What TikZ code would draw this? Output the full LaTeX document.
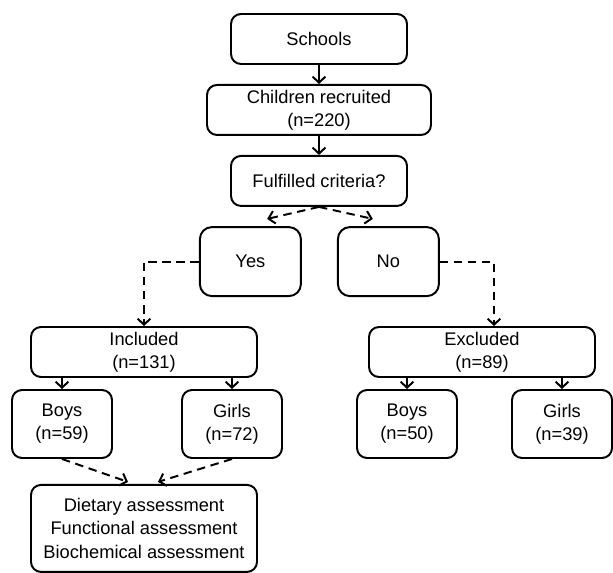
\documentclass[tikz,border=0pt]{standalone}
\usepackage{fontspec}
\setmainfont{Liberation Sans}
\usetikzlibrary{positioning,arrows.meta}

\begin{document}
\begin{tikzpicture}[
    node distance=0.475cm,
    every node/.style={font=\fontsize{13}{16.5}\selectfont},
    box/.style={rectangle, draw, line width=1.4pt, rounded corners=0.25cm, align=center, inner sep=0pt},
    widebox/.style={box, minimum width=5.65cm, minimum height=1.25cm},
    smallbox/.style={box, minimum width=2.5cm, minimum height=1.7cm},
    choice/.style={box, rounded corners=0.3cm, minimum width=2.525cm, minimum height=1.725cm},
    arrow/.style={-{Straight Barb[length=1.5mm,width=3.2mm]}, line width=1.4pt},
    dasharrow/.style={arrow, dash pattern=on 6pt off 4pt},
    dashline/.style={line width=1.4pt, dash pattern=on 6pt off 4pt}
]
    \useasboundingbox (0,0) rectangle (15.325,-14.325);

    % Top chain
    \node[box, minimum width=4.4cm, minimum height=1.25cm] (schools) at (7.975,-0.975) {Schools};
    \node[box, minimum width=5.6cm, minimum height=1.25cm] (children) [below=of schools] {Children recruited\\(n=220)};
    \node[box, minimum width=4.4cm, minimum height=1.25cm] (criteria) [below=of children] {Fulfilled criteria?};

    % Decision
    \node[choice] (yes) at (6.26,-6.54) {Yes};
    \node[choice] (no) at (9.71,-6.54) {No};

    % Groups
    \node[widebox] (incl) at (3.6,-8.8) {Included\\(n=131)};
    \node[widebox] (excl) at (12.05,-8.8) {Excluded\\(n=89)};

    \node[smallbox] (boysin) at (1.55,-10.6) {Boys\\(n=59)};
    \node[smallbox] (girlsin) at (5.8,-10.6) {Girls\\(n=72)};
    \node[smallbox] (boysex) at (10.175,-10.6) {Boys\\(n=50)};
    \node[smallbox] (girlsex) at (14.05,-10.6) {Girls\\(n=39)};

    % Assessments
    \node[box, minimum width=5.65cm, minimum height=2.175cm] (assess) at (3.6,-13.21) {Dietary assessment\\Functional assessment\\Biochemical assessment};

    % Solid arrows
    \draw[arrow] (schools) -- (children);
    \draw[arrow] (children) -- (criteria);
    \foreach \g/\s in {boysin/incl, girlsin/incl, boysex/excl, girlsex/excl} {
        \draw[arrow] (\g.north |- \s.south) -- (\g.north);
    }

    % Dashed arrows
    \draw[dasharrow] (criteria.south) -- ([xshift=0.42cm,yshift=0.18cm]yes.north);
    \draw[dasharrow] (criteria.south) -- ([xshift=-0.39cm,yshift=0.18cm]no.north);
    \draw[dasharrow] (yes.west) -| (incl.north);
    \draw[dasharrow] (no.east) -| ([xshift=0.3cm]excl.north);
    \draw[dasharrow] (boysin.south) -- ([xshift=-0.4cm,yshift=0.05cm]assess.north);
    \draw[dasharrow] (girlsin.south) -- ([xshift=0.35cm,yshift=0.05cm]assess.north);

\end{tikzpicture}
\end{document}
